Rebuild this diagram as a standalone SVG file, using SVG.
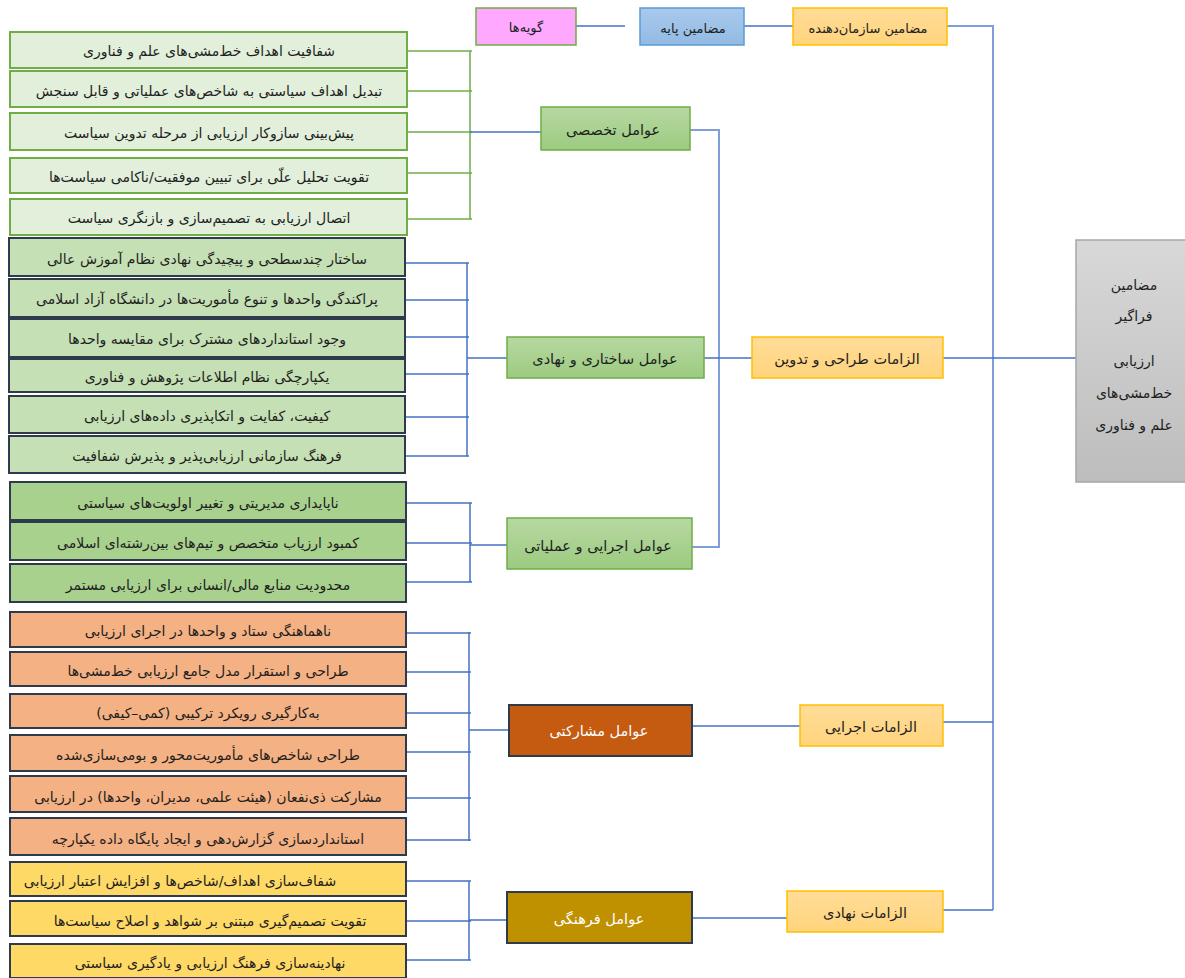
<svg xmlns="http://www.w3.org/2000/svg" width="1185" height="978" viewBox="0 0 1185 978">
<style>
text{font-family:"DejaVu Sans","Noto Sans",sans-serif;direction:rtl;text-anchor:middle;dominant-baseline:central;fill:#1e1e1e;font-size:14px}
.hd{font-size:13px}
.l1{fill:#E2EFDA;stroke:#70AD47;stroke-width:2}
.l2{fill:#C5E0B4;stroke:#2F3B4C;stroke-width:2}
.l3{fill:#A9D18E;stroke:#2F3B4C;stroke-width:2}
.l4{fill:#F4B183;stroke:#2F3B4C;stroke-width:2}
.l5{fill:#FFD966;stroke:#2F3B4C;stroke-width:2}
.g{fill:url(#gg);stroke:#70AD47;stroke-width:1.5}
.o{fill:url(#go);stroke:#FFC000;stroke-width:1.5}
.mid{font-size:14.5px}
.wt{fill:#ffffff;font-size:14.5px}
.cb{fill:none;stroke:#4472C4;stroke-width:1.5}
.cg{fill:none;stroke:#70AD47;stroke-width:1.5}
.cl{fill:none;stroke:#7F9FDB;stroke-width:2}
</style>
<defs>
<linearGradient id="gg" x1="0" y1="0" x2="0" y2="1"><stop offset="0" stop-color="#B7D8A2"/><stop offset="1" stop-color="#9CCB80"/></linearGradient>
<linearGradient id="go" x1="0" y1="0" x2="0" y2="1"><stop offset="0" stop-color="#FFDC98"/><stop offset="1" stop-color="#FFD47C"/></linearGradient>
<linearGradient id="gb" x1="0" y1="0" x2="0" y2="1"><stop offset="0" stop-color="#A9C9EC"/><stop offset="1" stop-color="#93BAE3"/></linearGradient>
<linearGradient id="gy" x1="0" y1="0" x2="0" y2="1"><stop offset="0" stop-color="#D8D8D8"/><stop offset="1" stop-color="#BDBDBD"/></linearGradient>
</defs>

<g id="connectors">
<path class="cb" d="M576,26H625M744,26H793"/>
<path class="cl" d="M947,26H993V910"/>
<path class="cb" d="M943,358H1076M943,722H993M943,910H993"/>
<path class="cl" d="M690,130H719V547H692"/>
<path class="cb" d="M704,358H752M692,726H800M692,918H787"/>
<path class="cg" d="M407,51H472M407,91H472M407,132H472M407,173H472M407,219H472M470,51V219"/>
<path class="cb" d="M470,132H541"/>
<path class="cb" d="M405,263H469M405,300H469M405,337H469M405,374H469M405,417H469M405,456H469M467,263V456M467,358H507"/>
<path class="cb" d="M406,503H472M406,543H472M406,582H472M470,503V582M470,545H507"/>
<path class="cb" d="M406,633H471M406,672H471M406,713H471M406,752H471M406,798H471M406,840H471M469,632V841M469,730H509"/>
<path class="cb" d="M406,881H471M406,921H471M406,960H471M469,881V960M469,920H507"/>
</g>

<g id="n-items"><rect x="476" y="8" width="100" height="37" fill="#FFA8FF" stroke="#70AD47" stroke-width="1.5"/><text x="526" y="27" class="hd">گویه‌ها</text></g>
<g id="n-basic"><rect x="640" y="8" width="104" height="37" fill="url(#gb)" stroke="#5B9BD5" stroke-width="1.5"/><text x="693" y="28" class="hd">مضامین پایه</text></g>
<g id="n-org"><rect x="793" y="8" width="154" height="37" class="o"/><text x="868" y="28" class="hd">مضامین سازمان‌دهنده</text></g>

<g id="n-global"><rect x="1076" y="240" width="115" height="242" fill="url(#gy)" stroke="#A6A6A6" stroke-width="1.5"/>
<text x="1134" y="285">مضامین</text><text x="1134" y="316">فراگیر</text><text x="1134" y="361">ارزیابی</text><text x="1134" y="393">خط‌مشی‌های</text><text x="1134" y="425">علم و فناوری</text></g>

<g id="n-req-design"><rect x="752" y="337" width="191" height="41" class="o"/><text x="847" y="359" class="mid">الزامات طراحی و تدوین</text></g>
<g id="n-req-exec"><rect x="800" y="705" width="143" height="41" class="o"/><text x="871" y="727" class="mid">الزامات اجرایی</text></g>
<g id="n-req-inst"><rect x="787" y="891" width="156" height="41" class="o"/><text x="865" y="913" class="mid">الزامات نهادی</text></g>

<g id="n-f-spec"><rect x="541" y="107" width="149" height="43" class="g"/><text x="613" y="130" class="mid">عوامل تخصصی</text></g>
<g id="n-f-struct"><rect x="507" y="337" width="197" height="41" class="g"/><text x="605" y="359" class="mid">عوامل ساختاری و نهادی</text></g>
<g id="n-f-exec"><rect x="507" y="518" width="185" height="51" class="g"/><text x="598" y="546" class="mid">عوامل اجرایی و عملیاتی</text></g>
<g id="n-f-part"><rect x="509" y="705" width="183" height="51" fill="#C55A11" stroke="#2F3B4C" stroke-width="2"/><text x="599" y="731" class="wt">عوامل مشارکتی</text></g>
<g id="n-f-cult"><rect x="507" y="892" width="185" height="51" fill="#BF9000" stroke="#2F3B4C" stroke-width="2"/><text x="599" y="919" class="wt">عوامل فرهنگی</text></g>

<g id="n-a1"><rect x="10" y="32" width="397" height="36" class="l1"/><text x="209" y="51">شفافیت اهداف خط‌مشی‌های علم و فناوری</text></g>
<g id="n-a2"><rect x="10" y="71" width="397" height="36" class="l1"/><text x="209" y="91">تبدیل اهداف سیاستی به شاخص‌های عملیاتی و قابل سنجش</text></g>
<g id="n-a3"><rect x="10" y="113" width="397" height="37" class="l1"/><text x="209" y="133">پیش‌بینی سازوکار ارزیابی از مرحله تدوین سیاست</text></g>
<g id="n-a4"><rect x="10" y="158" width="397" height="35" class="l1"/><text x="209" y="177">تقویت تحلیل علّی برای تبیین موفقیت/ناکامی سیاست‌ها</text></g>
<g id="n-a5"><rect x="10" y="199" width="397" height="36" class="l1"/><text x="209" y="218">اتصال ارزیابی به تصمیم‌سازی و بازنگری سیاست</text></g>

<g id="n-b1"><rect x="9" y="238" width="396" height="38" class="l2"/><text x="207" y="259">ساختار چندسطحی و پیچیدگی نهادی نظام آموزش عالی</text></g>
<g id="n-b2"><rect x="9" y="279" width="396" height="38" class="l2"/><text x="207" y="299">پراکندگی واحدها و تنوع مأموریت‌ها در دانشگاه آزاد اسلامی</text></g>
<g id="n-b3"><rect x="9" y="319" width="396" height="38" class="l2"/><text x="207" y="339">وجود استانداردهای مشترک برای مقایسه واحدها</text></g>
<g id="n-b4"><rect x="9" y="359" width="396" height="33" class="l2"/><text x="207" y="377">یکپارچگی نظام اطلاعات پژوهش و فناوری</text></g>
<g id="n-b5"><rect x="9" y="396" width="396" height="37" class="l2"/><text x="207" y="416">کیفیت، کفایت و اتکاپذیری داده‌های ارزیابی</text></g>
<g id="n-b6"><rect x="9" y="436" width="396" height="37" class="l2"/><text x="207" y="456">فرهنگ سازمانی ارزیابی‌پذیر و پذیرش شفافیت</text></g>

<g id="n-c1"><rect x="10" y="482" width="396" height="38" class="l3"/><text x="208" y="503">ناپایداری مدیریتی و تغییر اولویت‌های سیاستی</text></g>
<g id="n-c2"><rect x="10" y="522" width="396" height="38" class="l3"/><text x="208" y="543">کمبود ارزیاب متخصص و تیم‌های بین‌رشته‌ای اسلامی</text></g>
<g id="n-c3"><rect x="10" y="564" width="396" height="38" class="l3"/><text x="208" y="585">محدودیت منابع مالی/انسانی برای ارزیابی مستمر</text></g>

<g id="n-d1"><rect x="10" y="612" width="396" height="35" class="l4"/><text x="208" y="631">ناهماهنگی ستاد و واحدها در اجرای ارزیابی</text></g>
<g id="n-d2"><rect x="10" y="652" width="396" height="34" class="l4"/><text x="208" y="671">طراحی و استقرار مدل جامع ارزیابی خط‌مشی‌ها</text></g>
<g id="n-d3"><rect x="10" y="694" width="396" height="34" class="l4"/><text x="208" y="713">به‌کارگیری رویکرد ترکیبی (کمی–کیفی)</text></g>
<g id="n-d4"><rect x="10" y="735" width="396" height="36" class="l4"/><text x="208" y="755">طراحی شاخص‌های مأموریت‌محور و بومی‌سازی‌شده</text></g>
<g id="n-d5"><rect x="10" y="776" width="396" height="36" class="l4"/><text x="208" y="797">مشارکت ذی‌نفعان (هیئت علمی، مدیران، واحدها) در ارزیابی</text></g>
<g id="n-d6"><rect x="10" y="818" width="396" height="37" class="l4"/><text x="208" y="839">استانداردسازی گزارش‌دهی و ایجاد پایگاه داده یکپارچه</text></g>

<g id="n-e1"><rect x="10" y="862" width="396" height="34" class="l5"/><text x="180" y="881">شفاف‌سازی اهداف/شاخص‌ها و افزایش اعتبار ارزیابی</text></g>
<g id="n-e2"><rect x="10" y="901" width="396" height="35" class="l5"/><text x="210" y="921">تقویت تصمیم‌گیری مبتنی بر شواهد و اصلاح سیاست‌ها</text></g>
<g id="n-e3"><rect x="10" y="944" width="396" height="34" class="l5"/><text x="210" y="963">نهادینه‌سازی فرهنگ ارزیابی و یادگیری سیاستی</text></g>
</svg>
